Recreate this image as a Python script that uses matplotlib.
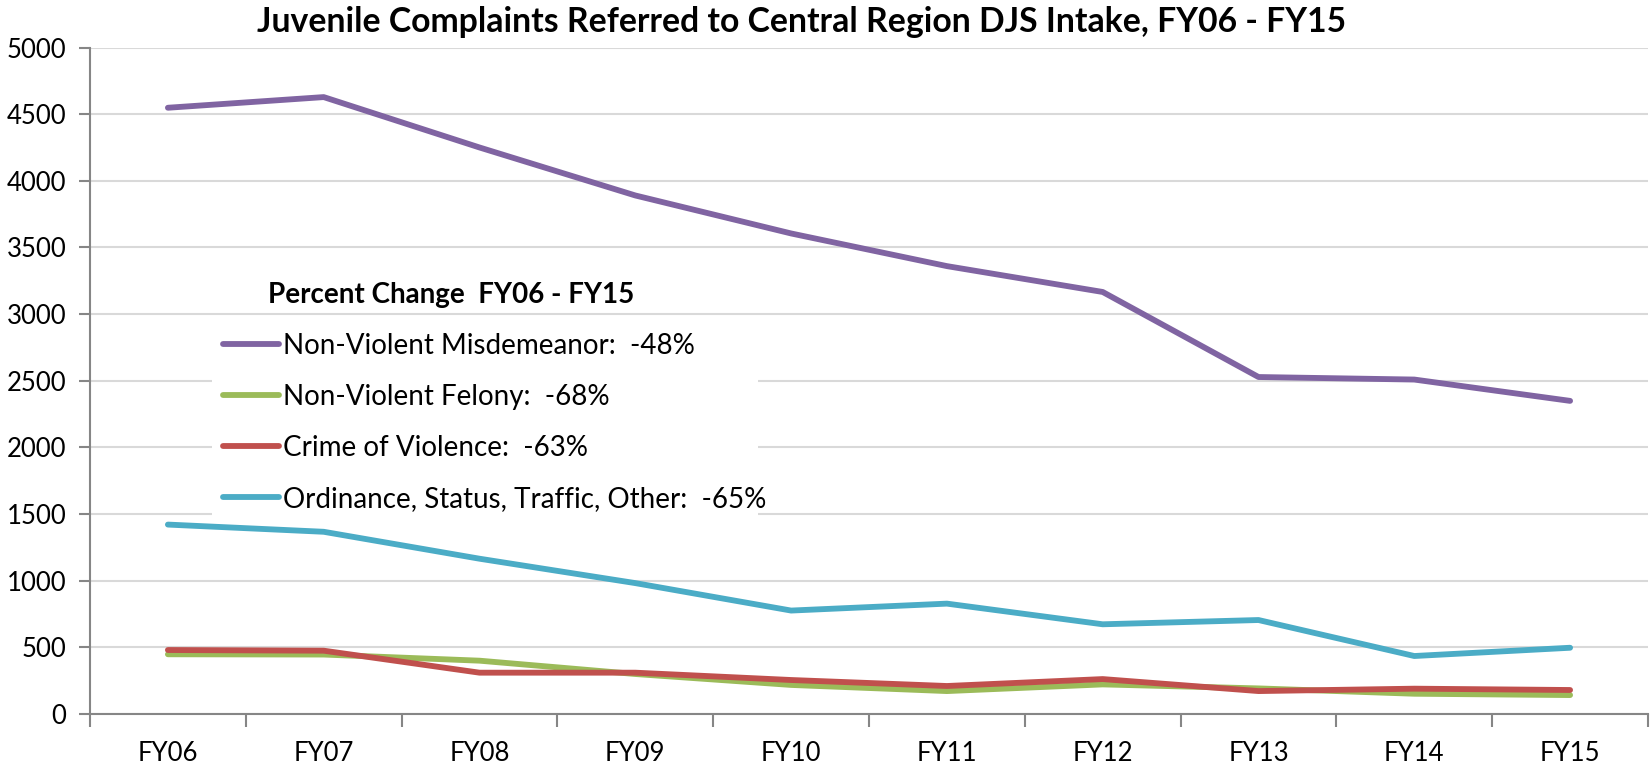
import matplotlib
matplotlib.use("Agg")
import matplotlib.pyplot as plt
import numpy as np

plt.rcParams['font.family'] = ['Lato', 'DejaVu Sans']

years = ["FY06", "FY07", "FY08", "FY09", "FY10", "FY11", "FY12", "FY13", "FY14", "FY15"]
misdemeanor = [4548, 4628, 4250, 3890, 3605, 3360, 3166, 2528, 2509, 2349]
felony      = [448, 446, 400, 300, 218, 172, 222, 192, 152, 142]
violence    = [480, 475, 310, 310, 255, 210, 262, 172, 190, 180]
ordinance   = [1421, 1367, 1165, 982, 776, 828, 673, 705, 435, 497]

series_labels = ["Non-Violent Misdemeanor:  -48%", "Non-Violent Felony:  -68%",
                 "Crime of Violence:  -63%", "Ordinance, Status, Traffic, Other:  -65%"]
colors = ["#8064A2", "#9BBB59", "#C0504D", "#4BACC6"]

W, H = 1651, 765
fig = plt.figure(figsize=(W / 100, H / 100), dpi=100)
ax = fig.add_axes([90 / W, 1 - 714 / H, (1648 - 90) / W, (714 - 47.5) / H])

x = np.arange(len(years)) + 0.5
lines = []
for vals, c, lab in zip([misdemeanor, felony, violence, ordinance], colors, series_labels):
    ln, = ax.plot(x, vals, color=c, lw=4.2, label=lab, solid_capstyle='round',
                  solid_joinstyle='round', zorder=3)
    lines.append(ln)

ax.set_xlim(0, len(years))
ax.set_ylim(0, 5000)
ax.set_yticks(np.arange(0, 5001, 500))
ax.set_xticks(x)
ax.set_xticklabels(years)
ax.set_xticks(np.arange(0, len(years) + 1), minor=True)
ax.tick_params(axis='x', which='major', length=0, pad=19.5, labelsize=18.5)
ax.tick_params(axis='x', which='minor', length=9, width=1.5, color='#868686', direction='out')
ax.tick_params(axis='y', length=8, width=1.5, color='#868686', labelsize=18.5, pad=9)

ax.grid(axis='y', color='#D9D9D9', lw=1.5, zorder=0)
ax.set_axisbelow(True)
for s in ['top', 'right']:
    ax.spines[s].set_visible(False)
for s in ['left', 'bottom']:
    ax.spines[s].set_color('#868686')
    ax.spines[s].set_linewidth(1.5)

fig.text(802 / W, 1 - 22 / H, "Juvenile Complaints Referred to Central Region DJS Intake, FY06 - FY15",
         ha='center', va='center', fontsize=24.3, fontweight='bold')

leg = ax.legend(handles=lines, loc='upper left',
                bbox_to_anchor=(212 / W, 1 - 322 / H, 546 / W, 0.0),
                bbox_transform=fig.transFigure, mode='expand',
                fontsize=20, frameon=True, facecolor='white', edgecolor='none',
                fancybox=False, framealpha=1, handlelength=2.0, handletextpad=0.15,
                labelspacing=0.9, borderaxespad=0, borderpad=0.4)
leg.set_zorder(5)

fig.text(268 / W, 1 - 295 / H, "Percent Change  FY06 - FY15", ha='left', va='center',
         fontsize=20, fontweight='bold', zorder=6)

fig.savefig("out.png", dpi=100)
